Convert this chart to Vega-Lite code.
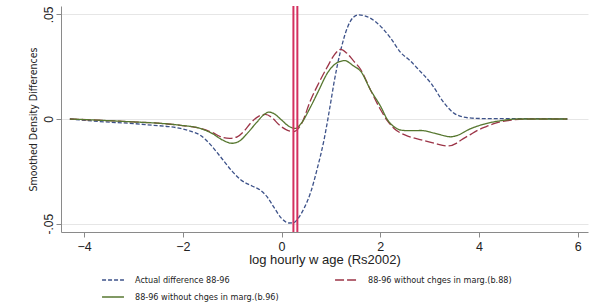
{
  "$schema": "https://vega.github.io/schema/vega-lite/v6.json",
  "width": 527,
  "height": 226,
  "autosize": "none",
  "padding": {"left": 61, "top": 6, "right": 17, "bottom": 71},
  "background": "white",
  "config": {
    "view": {"stroke": null},
    "font": "Liberation Sans"
  },
  "datasets": {
    "curves": [
      {"x": -4.29, "y": 0, "s": "Actual difference 88-96"},
      {"x": -3.7, "y": -0.0012, "s": "Actual difference 88-96"},
      {"x": -3.0, "y": -0.0022, "s": "Actual difference 88-96"},
      {"x": -2.6, "y": -0.003, "s": "Actual difference 88-96"},
      {"x": -2.3, "y": -0.0036, "s": "Actual difference 88-96"},
      {"x": -2.05, "y": -0.0045, "s": "Actual difference 88-96"},
      {"x": -1.85, "y": -0.0058, "s": "Actual difference 88-96"},
      {"x": -1.65, "y": -0.0077, "s": "Actual difference 88-96"},
      {"x": -1.45, "y": -0.012, "s": "Actual difference 88-96"},
      {"x": -1.24, "y": -0.018, "s": "Actual difference 88-96"},
      {"x": -1.0, "y": -0.025, "s": "Actual difference 88-96"},
      {"x": -0.83, "y": -0.029, "s": "Actual difference 88-96"},
      {"x": -0.6, "y": -0.032, "s": "Actual difference 88-96"},
      {"x": -0.43, "y": -0.034, "s": "Actual difference 88-96"},
      {"x": -0.3, "y": -0.037, "s": "Actual difference 88-96"},
      {"x": -0.16, "y": -0.042, "s": "Actual difference 88-96"},
      {"x": 0.0, "y": -0.0475, "s": "Actual difference 88-96"},
      {"x": 0.15, "y": -0.0497, "s": "Actual difference 88-96"},
      {"x": 0.25, "y": -0.0495, "s": "Actual difference 88-96"},
      {"x": 0.35, "y": -0.047, "s": "Actual difference 88-96"},
      {"x": 0.47, "y": -0.042, "s": "Actual difference 88-96"},
      {"x": 0.59, "y": -0.035, "s": "Actual difference 88-96"},
      {"x": 0.72, "y": -0.024, "s": "Actual difference 88-96"},
      {"x": 0.86, "y": -0.01, "s": "Actual difference 88-96"},
      {"x": 1.0, "y": 0.0085, "s": "Actual difference 88-96"},
      {"x": 1.06, "y": 0.017, "s": "Actual difference 88-96"},
      {"x": 1.2, "y": 0.033, "s": "Actual difference 88-96"},
      {"x": 1.34, "y": 0.044, "s": "Actual difference 88-96"},
      {"x": 1.45, "y": 0.0485, "s": "Actual difference 88-96"},
      {"x": 1.57, "y": 0.0498, "s": "Actual difference 88-96"},
      {"x": 1.7, "y": 0.0492, "s": "Actual difference 88-96"},
      {"x": 1.94, "y": 0.0458, "s": "Actual difference 88-96"},
      {"x": 2.2, "y": 0.039, "s": "Actual difference 88-96"},
      {"x": 2.42, "y": 0.0316, "s": "Actual difference 88-96"},
      {"x": 2.6, "y": 0.028, "s": "Actual difference 88-96"},
      {"x": 2.76, "y": 0.024, "s": "Actual difference 88-96"},
      {"x": 3.03, "y": 0.017, "s": "Actual difference 88-96"},
      {"x": 3.3, "y": 0.0075, "s": "Actual difference 88-96"},
      {"x": 3.5, "y": 0.0027, "s": "Actual difference 88-96"},
      {"x": 3.77, "y": 0.0006, "s": "Actual difference 88-96"},
      {"x": 4.11, "y": 0.0002, "s": "Actual difference 88-96"},
      {"x": 4.5, "y": 0.0002, "s": "Actual difference 88-96"},
      {"x": 5.0, "y": 0.0002, "s": "Actual difference 88-96"},
      {"x": 5.79, "y": 0, "s": "Actual difference 88-96"},

      {"x": -4.29, "y": 0, "s": "88-96 without chges in marg.(b.88)"},
      {"x": -3.5, "y": -0.0008, "s": "88-96 without chges in marg.(b.88)"},
      {"x": -3.0, "y": -0.0014, "s": "88-96 without chges in marg.(b.88)"},
      {"x": -2.5, "y": -0.002, "s": "88-96 without chges in marg.(b.88)"},
      {"x": -2.05, "y": -0.003, "s": "88-96 without chges in marg.(b.88)"},
      {"x": -1.65, "y": -0.0045, "s": "88-96 without chges in marg.(b.88)"},
      {"x": -1.4, "y": -0.0065, "s": "88-96 without chges in marg.(b.88)"},
      {"x": -1.2, "y": -0.0088, "s": "88-96 without chges in marg.(b.88)"},
      {"x": -1.05, "y": -0.0093, "s": "88-96 without chges in marg.(b.88)"},
      {"x": -0.9, "y": -0.0085, "s": "88-96 without chges in marg.(b.88)"},
      {"x": -0.75, "y": -0.0055, "s": "88-96 without chges in marg.(b.88)"},
      {"x": -0.63, "y": -0.002, "s": "88-96 without chges in marg.(b.88)"},
      {"x": -0.45, "y": 0.0015, "s": "88-96 without chges in marg.(b.88)"},
      {"x": -0.33, "y": 0.0022, "s": "88-96 without chges in marg.(b.88)"},
      {"x": -0.2, "y": 0.0008, "s": "88-96 without chges in marg.(b.88)"},
      {"x": -0.05, "y": -0.0028, "s": "88-96 without chges in marg.(b.88)"},
      {"x": 0.1, "y": -0.0052, "s": "88-96 without chges in marg.(b.88)"},
      {"x": 0.25, "y": -0.006, "s": "88-96 without chges in marg.(b.88)"},
      {"x": 0.4, "y": -0.0025, "s": "88-96 without chges in marg.(b.88)"},
      {"x": 0.59, "y": 0.0091, "s": "88-96 without chges in marg.(b.88)"},
      {"x": 0.75, "y": 0.017, "s": "88-96 without chges in marg.(b.88)"},
      {"x": 0.93, "y": 0.025, "s": "88-96 without chges in marg.(b.88)"},
      {"x": 1.08, "y": 0.031, "s": "88-96 without chges in marg.(b.88)"},
      {"x": 1.2, "y": 0.0333, "s": "88-96 without chges in marg.(b.88)"},
      {"x": 1.32, "y": 0.0315, "s": "88-96 without chges in marg.(b.88)"},
      {"x": 1.45, "y": 0.028, "s": "88-96 without chges in marg.(b.88)"},
      {"x": 1.61, "y": 0.0234, "s": "88-96 without chges in marg.(b.88)"},
      {"x": 1.8, "y": 0.014, "s": "88-96 without chges in marg.(b.88)"},
      {"x": 2.01, "y": 0.0043, "s": "88-96 without chges in marg.(b.88)"},
      {"x": 2.15, "y": -0.001, "s": "88-96 without chges in marg.(b.88)"},
      {"x": 2.28, "y": -0.0045, "s": "88-96 without chges in marg.(b.88)"},
      {"x": 2.42, "y": -0.0068, "s": "88-96 without chges in marg.(b.88)"},
      {"x": 2.6, "y": -0.0085, "s": "88-96 without chges in marg.(b.88)"},
      {"x": 2.83, "y": -0.01, "s": "88-96 without chges in marg.(b.88)"},
      {"x": 3.1, "y": -0.0116, "s": "88-96 without chges in marg.(b.88)"},
      {"x": 3.37, "y": -0.0129, "s": "88-96 without chges in marg.(b.88)"},
      {"x": 3.55, "y": -0.0115, "s": "88-96 without chges in marg.(b.88)"},
      {"x": 3.64, "y": -0.01, "s": "88-96 without chges in marg.(b.88)"},
      {"x": 3.8, "y": -0.0078, "s": "88-96 without chges in marg.(b.88)"},
      {"x": 3.98, "y": -0.0053, "s": "88-96 without chges in marg.(b.88)"},
      {"x": 4.15, "y": -0.0036, "s": "88-96 without chges in marg.(b.88)"},
      {"x": 4.32, "y": -0.0021, "s": "88-96 without chges in marg.(b.88)"},
      {"x": 4.66, "y": -0.0005, "s": "88-96 without chges in marg.(b.88)"},
      {"x": 5.0, "y": 0, "s": "88-96 without chges in marg.(b.88)"},
      {"x": 5.79, "y": 0, "s": "88-96 without chges in marg.(b.88)"},

      {"x": -4.29, "y": 0, "s": "88-96 without chges in marg.(b.96)"},
      {"x": -3.5, "y": -0.0008, "s": "88-96 without chges in marg.(b.96)"},
      {"x": -3.0, "y": -0.0014, "s": "88-96 without chges in marg.(b.96)"},
      {"x": -2.5, "y": -0.002, "s": "88-96 without chges in marg.(b.96)"},
      {"x": -2.05, "y": -0.003, "s": "88-96 without chges in marg.(b.96)"},
      {"x": -1.65, "y": -0.0045, "s": "88-96 without chges in marg.(b.96)"},
      {"x": -1.4, "y": -0.007, "s": "88-96 without chges in marg.(b.96)"},
      {"x": -1.2, "y": -0.01, "s": "88-96 without chges in marg.(b.96)"},
      {"x": -1.0, "y": -0.0116, "s": "88-96 without chges in marg.(b.96)"},
      {"x": -0.85, "y": -0.0105, "s": "88-96 without chges in marg.(b.96)"},
      {"x": -0.7, "y": -0.007, "s": "88-96 without chges in marg.(b.96)"},
      {"x": -0.5, "y": -0.0015, "s": "88-96 without chges in marg.(b.96)"},
      {"x": -0.35, "y": 0.0022, "s": "88-96 without chges in marg.(b.96)"},
      {"x": -0.26, "y": 0.0033, "s": "88-96 without chges in marg.(b.96)"},
      {"x": -0.15, "y": 0.0025, "s": "88-96 without chges in marg.(b.96)"},
      {"x": 0.0, "y": -0.0005, "s": "88-96 without chges in marg.(b.96)"},
      {"x": 0.15, "y": -0.0035, "s": "88-96 without chges in marg.(b.96)"},
      {"x": 0.28, "y": -0.0045, "s": "88-96 without chges in marg.(b.96)"},
      {"x": 0.4, "y": -0.002, "s": "88-96 without chges in marg.(b.96)"},
      {"x": 0.59, "y": 0.0059, "s": "88-96 without chges in marg.(b.96)"},
      {"x": 0.75, "y": 0.0135, "s": "88-96 without chges in marg.(b.96)"},
      {"x": 0.93, "y": 0.022, "s": "88-96 without chges in marg.(b.96)"},
      {"x": 1.1, "y": 0.0265, "s": "88-96 without chges in marg.(b.96)"},
      {"x": 1.28, "y": 0.0279, "s": "88-96 without chges in marg.(b.96)"},
      {"x": 1.45, "y": 0.0255, "s": "88-96 without chges in marg.(b.96)"},
      {"x": 1.61, "y": 0.0226, "s": "88-96 without chges in marg.(b.96)"},
      {"x": 1.8, "y": 0.014, "s": "88-96 without chges in marg.(b.96)"},
      {"x": 2.01, "y": 0.0059, "s": "88-96 without chges in marg.(b.96)"},
      {"x": 2.15, "y": -0.0005, "s": "88-96 without chges in marg.(b.96)"},
      {"x": 2.28, "y": -0.0037, "s": "88-96 without chges in marg.(b.96)"},
      {"x": 2.42, "y": -0.0053, "s": "88-96 without chges in marg.(b.96)"},
      {"x": 2.6, "y": -0.0056, "s": "88-96 without chges in marg.(b.96)"},
      {"x": 2.83, "y": -0.0055, "s": "88-96 without chges in marg.(b.96)"},
      {"x": 3.1, "y": -0.0068, "s": "88-96 without chges in marg.(b.96)"},
      {"x": 3.43, "y": -0.0085, "s": "88-96 without chges in marg.(b.96)"},
      {"x": 3.6, "y": -0.0075, "s": "88-96 without chges in marg.(b.96)"},
      {"x": 3.77, "y": -0.0053, "s": "88-96 without chges in marg.(b.96)"},
      {"x": 4.11, "y": -0.0024, "s": "88-96 without chges in marg.(b.96)"},
      {"x": 4.45, "y": -0.0008, "s": "88-96 without chges in marg.(b.96)"},
      {"x": 4.79, "y": 0, "s": "88-96 without chges in marg.(b.96)"},
      {"x": 5.79, "y": 0, "s": "88-96 without chges in marg.(b.96)"}
    ],
    "vlines": [{"x": 0.24}, {"x": 0.32}]
  },
  "layer": [
    {
      "data": {"name": "curves"},
      "mark": {"type": "line", "interpolate": "monotone", "strokeWidth": 1.3},
      "encoding": {
        "x": {
          "field": "x", "type": "quantitative",
          "scale": {"domain": [-4.47, 6.21], "nice": false, "zero": false},
          "axis": {
            "title": "log hourly w age (Rs2002)",
            "values": [-4, -2, 0, 2, 4, 6],
            "grid": false,
            "domainColor": "#8a8a8a",
            "tickColor": "#8a8a8a",
            "tickSize": 5,
            "labelFontSize": 12.5,
            "labelColor": "#222",
            "labelPadding": 3,
            "titleFontSize": 13,
            "titleFontWeight": "normal",
            "titleColor": "#222",
            "titlePadding": 1
          }
        },
        "y": {
          "field": "y", "type": "quantitative",
          "scale": {"domain": [-0.054, 0.054], "nice": false},
          "axis": {
            "title": "Smoothed Density Differences",
            "values": [-0.05, 0, 0.05],
            "labelExpr": "datum.value > 0.01 ? '.05' : (datum.value < -0.01 ? '-.05' : '0')",
            "labelAngle": -90,
            "labelAlign": "center",
            "labelBaseline": "bottom",
            "labelFontSize": 12,
            "labelColor": "#222",
            "labelPadding": 1,
            "grid": true,
            "gridColor": "#e6e6e6",
            "gridWidth": 1,
            "domainColor": "#8a8a8a",
            "tickColor": "#8a8a8a",
            "tickSize": 5,
            "titleFont": "DejaVu Sans Condensed",
            "titleFontSize": 10.5,
            "titleFontWeight": "normal",
            "titleColor": "#222",
            "titlePadding": 4
          }
        },
        "color": {
          "field": "s", "type": "nominal",
          "scale": {
            "domain": ["Actual difference 88-96", "88-96 without chges in marg.(b.96)", "88-96 without chges in marg.(b.88)"],
            "range": ["#3d5289", "#56772f", "#9c3447"]
          },
          "legend": {
            "title": null,
            "orient": "none",
            "legendX": 40,
            "legendY": 262,
            "columns": 2,
            "columnPadding": 53,
            "rowPadding": 0,
            "symbolType": "stroke",
            "symbolSize": 480,
            "symbolStrokeWidth": 1.3,
            "labelFont": "DejaVu Sans Condensed",
            "labelFontSize": 9,
            "labelColor": "#222",
            "labelOffset": 10,
            "labelLimit": 300
          }
        },
        "strokeDash": {
          "field": "s", "type": "nominal",
          "scale": {
            "domain": ["Actual difference 88-96", "88-96 without chges in marg.(b.96)", "88-96 without chges in marg.(b.88)"],
            "range": [[4, 2], [1, 0], [9, 3]]
          },
          "legend": {
            "title": null,
            "orient": "none",
            "legendX": 40,
            "legendY": 262,
            "columns": 2,
            "columnPadding": 53,
            "rowPadding": 0,
            "symbolType": "stroke",
            "symbolSize": 480,
            "symbolStrokeWidth": 1.3,
            "labelFont": "DejaVu Sans Condensed",
            "labelFontSize": 9,
            "labelColor": "#222",
            "labelOffset": 10,
            "labelLimit": 300
          }
        }
      }
    },
    {
      "data": {"name": "vlines"},
      "mark": {"type": "rule", "color": "#d4305f", "strokeWidth": 2},
      "encoding": {
        "x": {"field": "x", "type": "quantitative"}
      }
    }
  ]
}
